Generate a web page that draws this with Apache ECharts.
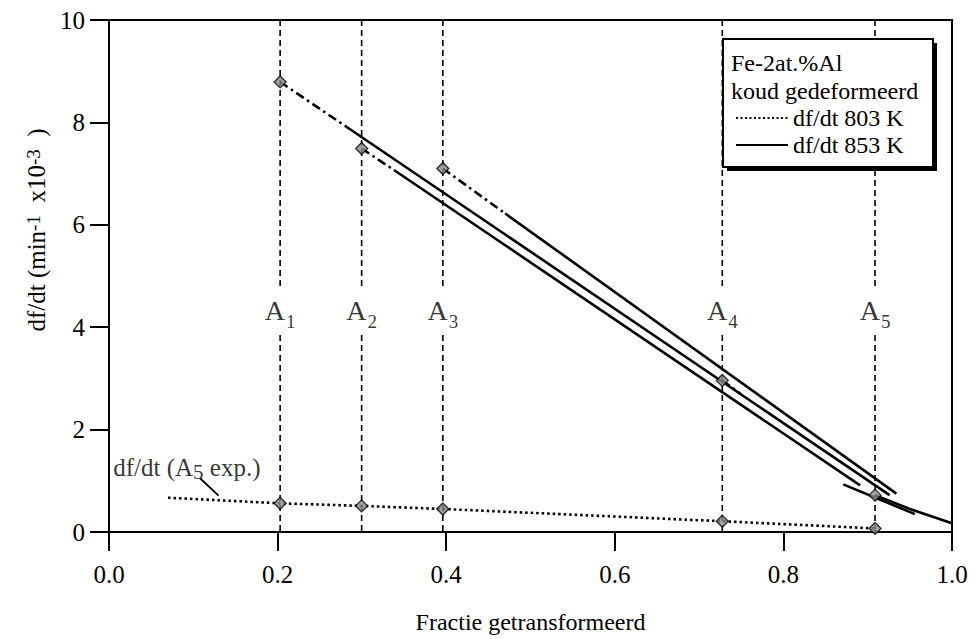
<!DOCTYPE html>
<html><head><meta charset="utf-8">
<script src="https://cdn.jsdelivr.net/npm/echarts@6/dist/echarts.min.js"></script>
<style>html,body{margin:0;padding:0;background:#fff}#c{width:975px;height:639px}</style>
</head><body><div id="c"></div>
<script>
const FONT = 'Liberation Serif';

// ---- data ----
const xTicks = [0.0, 0.2, 0.4, 0.6, 0.8, 1.0];
const yTicks = [0, 2, 4, 6, 8, 10];
const aPos = [0.203, 0.2997, 0.396, 0.7275, 0.9087];
const aNames = ['1', '2', '3', '4', '5'];
const aLabelY = 4.33;
const aLineTop = [10, 4.8];
const aLineBottom = [3.85, 0];

// df/dt 803 K (dotted, experimental A5)
const dot803 = [[0.070, 0.67], [0.203, 0.56], [0.2997, 0.51], [0.396, 0.45], [0.7275, 0.21], [0.9087, 0.07]];
const dot803Markers = [[0.203, 0.56], [0.2997, 0.51], [0.396, 0.45], [0.7275, 0.21], [0.9087, 0.07]];

// df/dt 853 K markers and curves
const topMarkers = [[0.203, 8.79], [0.2997, 7.49], [0.396, 7.10], [0.7275, 2.96], [0.9087, 0.72]];
const dashDot1 = [[0.203, 8.79], [0.282, 7.91]];
const dashDot2 = [[0.2997, 7.49], [0.338, 7.07]];
const dashDot3 = [[0.396, 7.10], [0.470, 6.22]];
const dashDot4 = [[0.7275, 2.96], [0.749, 2.70]];
const solid1 = [[0.282, 7.91], [0.926, 0.72]];
const solid2 = [[0.338, 7.07], [0.891, 0.91]];
const solid3 = [[0.470, 6.22], [0.934, 0.75]];
const tail853 = [[0.9087, 0.72], [0.95, 0.45], [1.0, 0.17]];
const hook853 = [[0.871, 0.93], [0.956, 0.35]];

const noteText = ['df/dt (A', '5', ' exp.)'];
const notePos = [0.005, 1.256];
const noteLeader = [[0.108, 1.05], [0.130, 0.71]];

const legendHeader = ['Fe-2at.%Al', 'koud gedeformeerd'];
const legendNames = ['df/dt 803 K', 'df/dt 853 K'];

// ---- chart ----
const chart = echarts.init(document.getElementById('c'), null, {renderer: 'svg'});

const series = [];
const lineS = (data, type, width) => ({
  type: 'line', data, showSymbol: false, symbol: 'none', silent: true,
  lineStyle: {color: '#000', width: width || 2.5, type: type || 'solid'},
  z: 3
});

aPos.forEach(x => {
  series.push(lineS(aLineTop.map(y => [x, y]), [6, 4], 1.6));
  series.push(lineS(aLineBottom.map(y => [x, y]), [6, 4], 1.6));
});
series.push(lineS(dot803, [2.5, 3], 2.6));
[dashDot1, dashDot2, dashDot3, dashDot4].forEach(d => series.push(lineS(d, [9, 4, 2.5, 4], 2.6)));
[solid1, solid2, solid3, tail853, hook853].forEach(d => series.push(lineS(d, 'solid', 2.6)));
series.push(lineS(noteLeader, 'solid', 1.8));

const markerStyle = {color: '#8a8a8a', borderColor: '#000', borderWidth: 1.3};
series.push({type: 'scatter', data: dot803Markers, symbol: 'diamond', symbolSize: 12, itemStyle: markerStyle, z: 6, silent: true});
series.push({type: 'scatter', data: topMarkers, symbol: 'diamond', symbolSize: 12, itemStyle: markerStyle, z: 6, silent: true});

// A labels
series.push({
  type: 'scatter', data: aPos.map(x => [x, aLabelY]), symbolSize: 0, silent: true, z: 6,
  label: {
    show: true, position: 'inside',
    formatter: p => '{a|A}{s|' + aNames[p.dataIndex] + '}',
    rich: {
      a: {fontSize: 28, fontFamily: FONT, color: '#000'},
      s: {fontSize: 19, fontFamily: FONT, color: '#000', verticalAlign: 'bottom', padding: [22, 0, 0, 1]}
    }
  }
});

// annotation
series.push({
  type: 'scatter', data: [notePos], symbolSize: 0, silent: true, z: 6,
  label: {
    show: true, position: 'right', distance: 0,
    formatter: '{n|' + noteText[0] + '}{s|' + noteText[1] + '}{n|' + noteText[2] + '}',
    rich: {
      n: {fontSize: 25, fontFamily: FONT, color: '#000'},
      s: {fontSize: 21, fontFamily: FONT, color: '#000', verticalAlign: 'bottom', padding: [8, 0, 0, 0]}
    }
  }
});

// legend series (no data)
series.push({name: legendNames[0], type: 'line', data: [], symbol: 'none', lineStyle: {color: '#000', width: 2.2, type: [2, 2.5]}, itemStyle: {color: '#000'}});
series.push({name: legendNames[1], type: 'line', data: [], symbol: 'none', lineStyle: {color: '#000', width: 2.6, type: 'solid'}, itemStyle: {color: '#000'}});

const option = {
  animation: false,
  backgroundColor: '#fff',
  textStyle: {fontFamily: FONT},
  grid: {left: 109, right: 23, top: 20, bottom: 105.5, show: true, borderColor: '#000', borderWidth: 2, containLabel: false},
  xAxis: {
    type: 'value', min: 0, max: 1, interval: 0.2,
    name: 'Fractie getransformeerd', nameLocation: 'middle', nameGap: 78,
    nameTextStyle: {fontSize: 24, fontFamily: FONT, color: '#000'},
    axisLine: {show: true, lineStyle: {color: '#000', width: 2}},
    axisTick: {show: true, length: 19, lineStyle: {color: '#000', width: 2}},
    axisLabel: {margin: 30, fontSize: 25, fontFamily: FONT, color: '#000', formatter: v => xTicks.includes(+v.toFixed(1)) ? v.toFixed(1) : ''},
    splitLine: {show: false}
  },
  yAxis: {
    type: 'value', min: 0, max: 10, interval: 2,
    name: '{n|df/dt (min}{s|-1}{n|  x10}{s|-3}{n|  )}', nameLocation: 'middle', nameGap: 46, nameRotate: 90,
    nameTextStyle: {
      color: '#000', fontFamily: FONT, padding: [0, 0, 0, 92],
      rich: {
        n: {fontSize: 25, fontFamily: FONT, color: '#000', verticalAlign: 'bottom'},
        s: {fontSize: 19, fontFamily: FONT, color: '#000', verticalAlign: 'top'}
      }
    },
    axisLine: {show: true, lineStyle: {color: '#000', width: 2}},
    axisTick: {show: true, length: 19, lineStyle: {color: '#000', width: 2}},
    axisLabel: {margin: 24, fontSize: 25, fontFamily: FONT, color: '#000', formatter: v => yTicks.includes(v) ? String(v) : ''},
    splitLine: {show: false}
  },
  legend: {
    show: true, orient: 'vertical', left: 735, top: 106, padding: 0, z: 20,
    itemWidth: 52, itemHeight: 14, itemGap: 3,
    data: legendNames,
    itemStyle: {color: 'rgba(0,0,0,0)', borderColor: 'rgba(0,0,0,0)', borderWidth: 0, opacity: 0},
    textStyle: {fontSize: 24, fontFamily: FONT, color: '#000', lineHeight: 24},
    selectedMode: false
  },
  graphic: [
    {type: 'rect', shape: {x: 727, y: 43, width: 210, height: 128}, style: {fill: '#000'}, z: 8},
    {type: 'rect', shape: {x: 723, y: 39, width: 210, height: 128}, style: {fill: '#fff', stroke: '#000', lineWidth: 2}, z: 9},
    {type: 'text', x: 731, y: 63, style: {text: legendHeader[0], fontSize: 24, fontFamily: FONT, fill: '#000', verticalAlign: 'middle'}, z: 21},
    {type: 'text', x: 731, y: 91, style: {text: legendHeader[1], fontSize: 24, fontFamily: FONT, fill: '#000', verticalAlign: 'middle'}, z: 21}
  ],
  series
};
chart.setOption(option);
</script>
</body></html>
